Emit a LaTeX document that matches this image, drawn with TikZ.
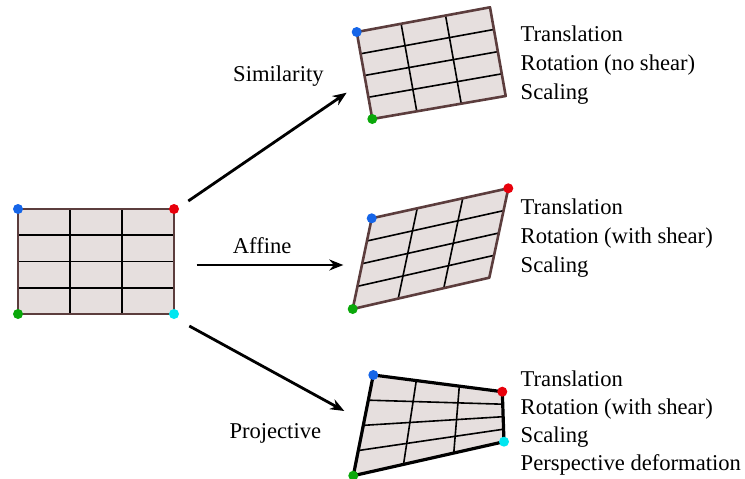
\documentclass[tikz,border=0pt]{standalone}
\usepackage{fontspec}
\setmainfont{Liberation Serif}
\usetikzlibrary{calc,arrows.meta}
\definecolor{gfill}{HTML}{E6DFDE}
\definecolor{gedge}{HTML}{5C3D3D}
\definecolor{dblue}{HTML}{1565E8}
\definecolor{dred}{HTML}{E8000B}
\definecolor{dgreen}{HTML}{0AA80A}
\definecolor{dcyan}{HTML}{00E6F0}
\tikzset{
  gridline/.style={black, line width=1.6pt},
  edgebrown/.style={gedge, line width=2.6pt, line join=round},
  edgeblack/.style={black, line width=3.2pt, line join=round},
  txt/.style={anchor=base west, inner sep=0pt, font=\fontsize{22.6}{26}\selectfont},
  bigarrow/.style={-{Stealth[length=14pt,width=11pt]}, line width=2.8pt},
  dot/.style={radius=5pt}
}
\newcommand\quadgrid[6]{%
  \coordinate (#1tl) at (#2);
  \coordinate (#1tr) at (#3);
  \coordinate (#1br) at (#4);
  \coordinate (#1bl) at (#5);
  \fill[gfill] (#1tl) -- (#1tr) -- (#1br) -- (#1bl) -- cycle;
  \foreach \t in {0.3333,0.6667}
    \draw[gridline] ($(#1tl)!\t!(#1tr)$) -- ($(#1bl)!\t!(#1br)$);
  \foreach \t in {0.25,0.5,0.75}
    \draw[gridline] ($(#1tl)!\t!(#1bl)$) -- ($(#1tr)!\t!(#1br)$);
  \draw[#6] (#1tl) -- (#1tr) -- (#1br) -- (#1bl) -- cycle;
}
\begin{document}
\begin{tikzpicture}[x=1pt, y=-1pt]
\useasboundingbox (0,0) rectangle (745,479);
% original
\quadgrid{O}{18,209}{174,209}{174,314}{18,314}{edgebrown}
\fill[dblue] (Otl) circle[dot];
\fill[dred] (Otr) circle[dot];
\fill[dcyan] (Obr) circle[dot];
\fill[dgreen] (Obl) circle[dot];
% similarity
\quadgrid{S}{356.7,32}{490,7.3}{505.7,96}{372.3,119}{edgebrown}
\fill[dblue] (Stl) circle[dot];
\fill[dgreen] (Sbl) circle[dot];
% affine
\quadgrid{A}{371.7,218.3}{508.3,188.3}{489.3,277.7}{352.7,309}{edgebrown}
\fill[dblue] (Atl) circle[dot];
\fill[dred] (Atr) circle[dot];
\fill[dgreen] (Abl) circle[dot];
% projective
\quadgrid{P}{373.3,375}{502.3,391.7}{504,441.7}{353.3,475.7}{edgeblack}
\fill[dblue] (Ptl) circle[dot];
\fill[dred] (Ptr) circle[dot];
\fill[dcyan] (Pbr) circle[dot];
\fill[dgreen] (Pbl) circle[dot];
% arrows
\coordinate (s0) at (188.3,201);
\coordinate (s1) at (346.7,92.7);
\coordinate (a0) at (196.7,265);
\coordinate (a1) at (343.3,265);
\coordinate (p0) at (189.3,326);
\coordinate (p1) at (344.3,411);
\draw[bigarrow] (s0) -- (s1);
\draw[bigarrow] (a0) -- (a1);
\draw[bigarrow] (p0) -- (p1);
% labels
\node[txt] (lsim) at (233,81.5) {Similarity};
\node[txt] (laff) at (232.7,253.3) {Affine};
\node[txt] (lpro) at (229.3,438.3) {Projective};
% lists
\node[txt] (s1t) at (520.5,41.7) {Translation};
\node[txt] (s2t) at (520.5,70.5) {Rotation (no shear)};
\node[txt] (s3t) at (520.5,99) {Scaling};
\node[txt] (a1t) at (520.5,214) {Translation};
\node[txt] (a2t) at (520.5,243) {Rotation (with shear)};
\node[txt] (a3t) at (520.5,272) {Scaling};
\node[txt] (p1t) at (520.5,386) {Translation};
\node[txt] (p2t) at (520.5,414.5) {Rotation (with shear)};
\node[txt] (p3t) at (520.5,442) {Scaling};
\node[txt] (p4t) at (520.5,470) {Perspective deformation};
\end{tikzpicture}
\end{document}
